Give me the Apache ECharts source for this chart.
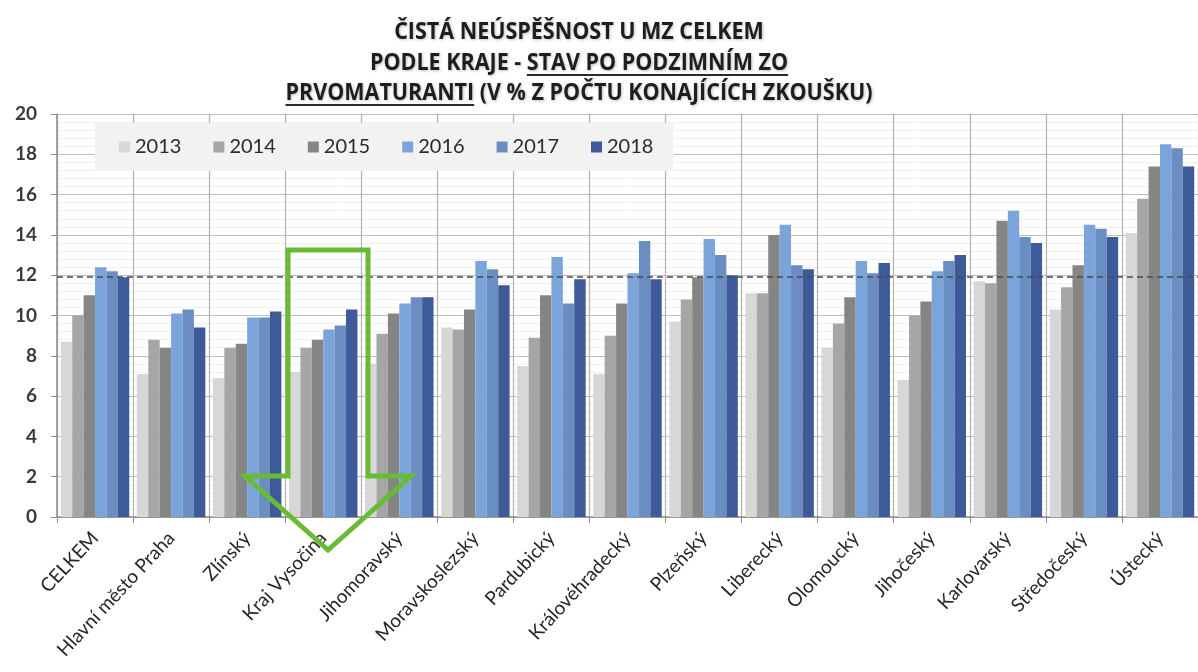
<!DOCTYPE html>
<html>
<head>
<meta charset="utf-8">
<script src="https://cdn.jsdelivr.net/npm/echarts@6/dist/echarts.min.js"></script>
<style>
  html, body { margin: 0; padding: 0; background: #ffffff; }
  #chart { width: 1198px; height: 672px; }
</style>
</head>
<body>
<div id="chart"></div>
<script>
// Regions (kraje) in the order shown, CELKEM = whole country
const categories = ["CELKEM", "Hlavní město Praha", "Zlínský", "Kraj Vysočina", "Jihomoravský",
  "Moravskoslezský", "Pardubický", "Královéhradecký", "Plzeňský", "Liberecký",
  "Olomoucký", "Jihočeský", "Karlovarský", "Středočeský", "Ústecký"];

const years = ["2013", "2014", "2015", "2016", "2017", "2018"];

// Net failure rate in % of candidates taking the exam
const v2013 = [8.7, 7.1, 6.9, 7.2, 7.6, 9.4, 7.5, 7.1, 9.7, 11.1, 8.4, 6.8, 11.7, 10.3, 14.1];
const v2014 = [10.0, 8.8, 8.4, 8.4, 9.1, 9.3, 8.9, 9.0, 10.8, 11.1, 9.6, 10.0, 11.6, 11.4, 15.8];
const v2015 = [11.0, 8.4, 8.6, 8.8, 10.1, 10.3, 11.0, 10.6, 11.9, 14.0, 10.9, 10.7, 14.7, 12.5, 17.4];
const v2016 = [12.4, 10.1, 9.9, 9.3, 10.6, 12.7, 12.9, 12.1, 13.8, 14.5, 12.7, 12.2, 15.2, 14.5, 18.5];
const v2017 = [12.2, 10.3, 9.9, 9.5, 10.9, 12.3, 10.6, 13.7, 13.0, 12.5, 12.1, 12.7, 13.9, 14.3, 18.3];
const v2018 = [11.9, 9.4, 10.2, 10.3, 10.9, 11.5, 11.8, 11.8, 12.0, 12.3, 12.6, 13.0, 13.6, 13.9, 17.4];

const seriesValues = [v2013, v2014, v2015, v2016, v2017, v2018];
const yearColors = ["#d7d7d7", "#a6a6a6", "#858585", "#7ba4da", "#6a8ec2", "#3e5a99"];

// Title lines; the second part of line 2 and the first part of line 3 are underlined
const titleLine1 = "ČISTÁ NEÚSPĚŠNOST U MZ CELKEM";
const titleLine2a = "PODLE KRAJE - ";
const titleLine2b = "STAV PO PODZIMNÍM ZO";
const titleLine3a = "PRVOMATURANTI";
const titleLine3b = " (V % Z POČTU KONAJÍCÍCH ZKOUŠKU)";

const chart = echarts.init(document.getElementById('chart'), null, { renderer: 'canvas' });

// Title typography: measure with canvas to squeeze the text into a condensed look
const titleFont = 'bold 23px "Liberation Sans Narrow", "Open Sans", sans-serif';
const ctx = document.createElement('canvas').getContext('2d');
ctx.font = titleFont;
const w = t => ctx.measureText(t).width;
const titleCenterX = 579;
const line3Target = 587;
const sx = line3Target / w(titleLine3a + titleLine3b);
const ys = [32, 63, 93];

function titleText(text, y) {
  return {
    type: 'text', x: titleCenterX, y: y, scaleX: sx, z: 10,
    style: {
      text: text, font: titleFont, fill: '#1e1e1e',
      textAlign: 'center', textVerticalAlign: 'middle',
      textShadowColor: 'rgba(0,0,0,0.25)', textShadowBlur: 3, textShadowOffsetX: 1, textShadowOffsetY: 1
    }
  };
}
function underline(x1, x2, y) {
  return {
    type: 'line', z: 10,
    shape: { x1: x1, y1: y, x2: x2, y2: y },
    style: { stroke: '#2a2a2a', lineWidth: 2 }
  };
}
const l2Full = w(titleLine2a + titleLine2b) * sx;
const l2Start = titleCenterX - l2Full / 2;
const l2u1 = l2Start + w(titleLine2a) * sx;
const l3Full = w(titleLine3a + titleLine3b) * sx;
const l3Start = titleCenterX - l3Full / 2;
const l3u2 = l3Start + w(titleLine3a) * sx;

const labelFont = 'Lato, "Open Sans", sans-serif';

const series = years.map((yr, i) => {
  const s = {
    name: yr,
    type: 'bar',
    data: seriesValues[i],
    barGap: '0%',
    barCategoryGap: '10%',
    itemStyle: { color: yearColors[i] }
  };
  if (i === 5) {
    // Dashed reference line at the national (CELKEM) value for 2018
    s.markLine = {
      silent: true,
      symbol: ['none', 'none'],
      label: { show: false },
      lineStyle: { color: '#4a4a4a', type: [6, 4], width: 1.6 },
      data: [{ yAxis: v2018[0] }]
    };
  }
  return s;
});

const option = {
  backgroundColor: '#ffffff',
  animation: false,
  textStyle: { fontFamily: labelFont },
  legend: {
    data: years,
    left: 95, top: 123,
    width: 600,
    padding: [14, 20, 14, 24],
    backgroundColor: '#f2f2f2',
    itemWidth: 11, itemHeight: 11, itemGap: 32,
    icon: 'rect',
    textStyle: { fontSize: 20, color: '#2b2b2b', fontFamily: labelFont }
  },
  grid: { left: 57, right: -3, top: 114, bottom: 155, containLabel: false },
  xAxis: {
    type: 'category',
    data: categories,
    boundaryGap: true,
    axisLine: { show: true, lineStyle: { color: '#8c8c8c', width: 1.5 } },
    axisTick: { show: true, interval: 0, length: 6, lineStyle: { color: '#8c8c8c' } },
    splitLine: { show: true, interval: 0, lineStyle: { color: '#b3b3b3', width: 1.2 } },
    axisLabel: {
      interval: 0, rotate: 47, fontSize: 19, color: '#262626',
      fontFamily: labelFont, margin: 18
    }
  },
  yAxis: {
    type: 'value',
    min: 0, max: 20, interval: 2,
    axisLine: { show: true, lineStyle: { color: '#8c8c8c', width: 1.5 } },
    axisTick: { show: true, length: 6, lineStyle: { color: '#8c8c8c' } },
    axisLabel: { fontSize: 19, color: '#3a3a3a', fontFamily: labelFont, fontWeight: 'bold', margin: 20 },
    splitLine: { show: true, lineStyle: { color: '#bdbdbd', width: 1.2 } },
    minorTick: { show: false, splitNumber: 5 },
    minorSplitLine: { show: true, lineStyle: { color: '#f1f1f1', width: 1 } }
  },
  series: series,
  graphic: [
    titleText(titleLine1, ys[0]),
    titleText(titleLine2a + titleLine2b, ys[1]),
    titleText(titleLine3a + titleLine3b, ys[2]),
    underline(l2u1, l2Start + l2Full, ys[1] + 12),
    underline(l3Start, l3u2, ys[2] + 12),
    {
      // Green outlined arrow pointing down at Kraj Vysočina
      type: 'polygon', z: 20,
      shape: { points: [[288, 250], [368, 250], [368, 476], [411, 476], [328, 550], [245, 476], [288, 476]] },
      style: { fill: 'none', stroke: '#68bc34', lineWidth: 5, lineJoin: 'miter' }
    }
  ]
};

chart.setOption(option);
</script>
</body>
</html>
